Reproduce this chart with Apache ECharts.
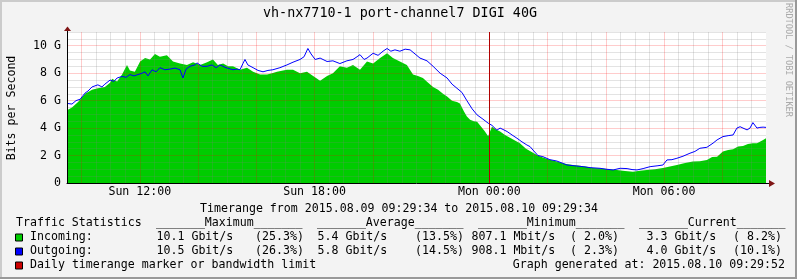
<!DOCTYPE html>
<html><head><meta charset="utf-8">
<script src="https://cdn.jsdelivr.net/npm/echarts@6/dist/echarts.min.js"></script>
<style>html,body{margin:0;padding:0;background:#f3f3f3}#c{width:797px;height:279px}</style>
</head><body><div id="c"></div>
<script>
// ---- data (hours since Sunday 00:00, values in Gbit/s) ----
const inTimes = [9.50,9.67,9.88,10.12,10.36,10.56,10.80,10.98,11.05,11.22,11.39,11.56,11.66,11.83,12.01,12.18,12.35,12.52,12.69,12.93,13.14,13.38,13.62,13.83,14.07,14.31,14.51,14.68,14.86,15.03,15.20,15.44,15.68,15.89,16.13,16.37,16.54,16.71,16.92,17.05,17.26,17.50,17.74,17.95,18.19,18.43,18.63,18.87,19.11,19.32,19.56,19.80,20.01,20.25,20.49,20.69,20.93,21.17,21.38,21.55,21.72,21.90,22.07,22.24,22.41,22.55,22.72,22.89,22.99,23.13,23.23,23.34,23.47,23.58,23.72,23.85,23.96,24.09,24.23,24.37,24.54,24.71,24.88,25.05,25.26,25.50,25.67,25.84,26.08,26.32,26.60,26.87,27.11,27.35,27.56,27.80,28.08,28.38,28.66,28.93,29.17,29.41,29.69,29.96,30.20,30.44,30.72,30.99,31.23,31.47,31.65,31.82,32.02,32.20,32.37,32.54,32.71,32.88,33.05,33.19,33.29,33.40,33.50];
const inValues = [5.3,5.5,5.9,6.5,6.8,6.9,7.0,7.3,7.6,7.4,7.9,8.6,8.2,8.1,8.85,9.1,9.0,9.4,9.2,9.3,8.85,8.7,8.6,8.8,8.6,8.8,9.0,8.6,8.7,8.5,8.5,8.25,8.4,8.1,7.9,7.9,8.0,8.1,8.2,8.25,8.25,8.0,8.1,7.8,7.45,7.8,8.0,8.5,8.4,8.6,8.25,8.85,8.7,9.1,9.45,9.1,8.85,8.6,7.9,7.8,7.65,7.3,7.0,6.8,6.5,6.3,6.0,5.9,5.8,5.2,4.84,4.6,4.5,4.47,4.1,3.75,3.4,4.1,3.9,3.75,3.5,3.3,3.1,2.9,2.5,2.2,2.0,1.85,1.7,1.56,1.4,1.31,1.25,1.19,1.1,1.07,1.0,0.95,0.88,0.82,0.9,0.95,1.0,1.1,1.2,1.31,1.45,1.56,1.58,1.68,1.9,1.92,2.3,2.4,2.45,2.65,2.7,2.85,2.9,2.9,3.0,3.14,3.26];
const outTimes = [9.50,9.67,9.81,9.95,10.12,10.22,10.36,10.56,10.70,10.80,10.98,11.11,11.22,11.39,11.53,11.66,11.80,11.94,12.08,12.18,12.28,12.42,12.56,12.69,12.86,13.04,13.21,13.38,13.48,13.59,13.72,13.89,13.96,14.14,14.31,14.48,14.62,14.75,14.96,15.20,15.34,15.44,15.54,15.61,15.71,15.89,16.06,16.23,16.40,16.57,16.81,17.05,17.26,17.50,17.64,17.77,17.88,18.02,18.19,18.43,18.63,18.87,19.11,19.32,19.46,19.56,19.70,19.80,20.01,20.18,20.35,20.49,20.62,20.76,20.93,21.11,21.28,21.45,21.62,21.86,22.07,22.31,22.55,22.72,22.89,23.06,23.23,23.41,23.58,23.75,23.96,24.09,24.26,24.37,24.47,24.61,24.78,24.95,25.12,25.29,25.40,25.50,25.67,25.84,26.08,26.32,26.50,26.67,26.94,27.22,27.46,27.80,28.04,28.25,28.49,28.73,28.90,29.07,29.28,29.52,29.76,29.96,30.10,30.27,30.44,30.65,30.89,31.06,31.23,31.47,31.68,31.82,32.02,32.20,32.37,32.50,32.61,32.71,32.85,32.95,33.05,33.19,33.29,33.40,33.50];
const outValues = [5.8,5.75,6.0,6.1,6.55,6.7,7.0,7.15,7.0,7.2,7.5,7.4,7.65,7.76,7.7,7.9,7.8,7.9,8.0,8.1,7.8,8.25,8.1,8.4,8.25,8.3,8.37,8.25,7.65,8.3,8.5,8.6,8.75,8.5,8.5,8.6,8.4,8.6,8.4,8.25,8.3,8.25,8.7,9.0,8.6,8.4,8.2,8.1,8.2,8.25,8.4,8.6,8.8,9.0,9.2,9.8,9.4,9.0,9.1,8.85,8.9,8.7,8.9,9.0,9.2,9.35,9.0,9.1,9.45,9.3,9.6,9.8,9.6,9.7,9.6,9.75,9.7,9.4,9.1,8.9,8.5,8.0,7.65,7.2,6.9,6.6,6.0,5.4,4.96,4.7,4.36,4.2,3.85,4.0,3.9,3.75,3.5,3.26,3.0,2.77,2.65,2.4,2.0,1.92,1.7,1.6,1.45,1.31,1.25,1.19,1.12,1.07,1.0,0.95,1.07,1.05,0.98,0.95,1.05,1.19,1.25,1.31,1.68,1.7,1.8,1.95,2.17,2.3,2.53,2.6,2.9,3.14,3.38,3.45,3.5,4.0,4.1,4.0,3.87,4.0,4.4,4.0,4.05,4.07,4.05];
const markerHours = [24];
const xLabelHours = [12, 18, 24, 30];
const xLabels = ['Sun 12:00', 'Sun 18:00', 'Mon 00:00', 'Mon 06:00'];
const yLabelValues = [0, 2, 4, 6, 8, 10];
const yLabels = ['0', '2 G', '4 G', '6 G', '8 G', '10 G'];
const titleText = 'vh-nx7710-1 port-channel7 DIGI 40G';
const yTitle = 'Bits per Second';
const sideText = 'RRDTOOL / TOBI OETIKER';
const timerangeText = 'Timerange from 2015.08.09 09:29:34 to 2015.08.10 09:29:34';
const statsTitle = 'Traffic Statistics';
const statHeaders = ['_______Maximum_______', '_______Average_______', '_______Minimum_______', '_______Current_______'];
const seriesNames = ['Incoming:', 'Outgoing:'];
const incomingStats = ['10.1 Gbit/s', '(25.3%)', '5.4 Gbit/s', '(13.5%)', '807.1 Mbit/s', '( 2.0%)', '3.3 Gbit/s', '( 8.2%)'];
const outgoingStats = ['10.5 Gbit/s', '(26.3%)', '5.8 Gbit/s', '(14.5%)', '908.1 Mbit/s', '( 2.3%)', '4.0 Gbit/s', '(10.1%)'];
const markerLegend = 'Daily timerange marker or bandwidth limit';
const generatedText = 'Graph generated at: 2015.08.10 09:29:52';

// ---- grid tick positions (axis units) ----
const X_MIN = 9.5, X_MAX = 33.5, Y_MAX = 11;
const xMinorTicks = [], xMajorTicks = [], yMinorTicks = [], yMajorTicks = [];
for (let h = 10; h < X_MAX; h += 0.5) (h % 2 === 0 ? xMajorTicks : xMinorTicks).push(h);
for (let v = 0.5; v <= Y_MAX; v += 0.5) (v % 2 === 0 ? yMajorTicks : yMinorTicks).push(v);

// ---- style ----
const MONO = 'DejaVu Sans Mono';
const FS = 11.6;
const GREEN = '#00CC00', BLUE = '#0000FF', RED = '#CC0000';
const minorStyle = { color: 'rgba(128,128,128,0.22)', type: 'solid', width: 1 };
const majorStyle = { color: 'rgba(255,0,0,0.2)', type: 'solid', width: 1 };

const chart = echarts.init(document.getElementById('c'));
const zip = (t, v) => t.map((x, i) => [x, v[i]]);

function txt(text, x, y, opts) {
  opts = opts || {};
  return {
    type: 'text', x: x, y: y, rotation: opts.rotation || 0, z: 100,
    style: {
      text: text, fill: opts.fill || '#000',
      font: (opts.size || FS) + 'px "' + MONO + '"',
      textAlign: opts.align || 'left', textVerticalAlign: 'middle'
    }
  };
}
function box(y, color) {
  return { type: 'rect', z: 100, shape: { x: 15.5, y: y + 0.5, width: 7, height: 7 },
    style: { fill: color, stroke: '#000', lineWidth: 1 } };
}

const graphics = [
  { type: 'rect', shape: { x: 0, y: 0, width: 797, height: 2 }, style: { fill: '#CBCBCB' }, z: 100 },
  { type: 'rect', shape: { x: 0, y: 0, width: 2, height: 279 }, style: { fill: '#CBCBCB' }, z: 100 },
  { type: 'rect', shape: { x: 0, y: 277, width: 797, height: 2 }, style: { fill: '#999999' }, z: 100 },
  { type: 'rect', shape: { x: 795, y: 0, width: 2, height: 279 }, style: { fill: '#999999' }, z: 100 },
  txt(titleText, 400, 14, { align: 'center', size: 13.4 }),
  txt(yTitle, 12, 108, { align: 'center', rotation: Math.PI / 2 }),
  txt(sideText, 788, 60, { align: 'center', rotation: -Math.PI / 2, size: 8.6, fill: '#AAAAAA' }),
  { type: 'line', z: 100, shape: { x1: 67.5, y1: 31, x2: 67.5, y2: 33 }, style: { stroke: '#000', lineWidth: 1 } },
  { type: 'polygon', z: 100, shape: { points: [[67.5, 26.5], [64, 31], [71, 31]] }, style: { fill: '#7F1414' } },
  { type: 'line', z: 100, shape: { x1: 765, y1: 183.5, x2: 770, y2: 183.5 }, style: { stroke: '#000', lineWidth: 1 } },
  { type: 'polygon', z: 100, shape: { points: [[775, 183.5], [769, 180], [769, 187]] }, style: { fill: '#7F1414' } },
  txt(timerangeText, 399, 209, { align: 'center' }),
  txt(statsTitle, 16, 223),
  box(233.5, GREEN), box(247.5, BLUE), box(261.5, RED),
  txt(seriesNames[0], 30, 237),
  txt(seriesNames[1], 30, 251),
  txt(markerLegend, 30, 265),
  txt(generatedText, 785, 265, { align: 'right' })
];
const headerX = [156, 317, 478, 639];
statHeaders.forEach((h, i) => graphics.push(txt(h, headerX[i], 223)));
const valX = [156.5, 317.5, 471.5, 646.5];
const pctX = [255, 415, 570, 733];
[incomingStats, outgoingStats].forEach((row, r) => {
  const y = 237 + r * 14;
  for (let k = 0; k < 4; k++) {
    graphics.push(txt(row[2 * k], valX[k], y));
    graphics.push(txt(row[2 * k + 1], pctX[k], y));
  }
});

const gridLines = []
  .concat(xMinorTicks.map(h => ({ xAxis: h, lineStyle: minorStyle })))
  .concat(yMinorTicks.map(v => ({ yAxis: v, lineStyle: minorStyle })))
  .concat(xMajorTicks.map(h => ({ xAxis: h, lineStyle: majorStyle })))
  .concat(yMajorTicks.map(v => ({ yAxis: v, lineStyle: majorStyle })));

const option = {
  animation: false,
  backgroundColor: '#F3F3F3',
  grid: { left: 67, right: 31, top: 32, bottom: 96, show: true, backgroundColor: '#FFFFFF', borderWidth: 0 },
  xAxis: {
    type: 'value', min: X_MIN, max: X_MAX, interval: 0.5, z: 6,
    axisLine: { show: true, onZero: false, lineStyle: { color: '#000', width: 1 } },
    axisTick: { show: false },
    axisLabel: {
      color: '#000', fontFamily: MONO, fontSize: FS, margin: 3,
      formatter: v => { const i = xLabelHours.indexOf(v); return i >= 0 ? xLabels[i] : ''; }
    },
    splitLine: { show: false }
  },
  yAxis: {
    type: 'value', min: 0, max: Y_MAX, interval: 2, z: 6,
    axisLine: { show: true, lineStyle: { color: '#000', width: 1 } },
    axisTick: { show: false },
    axisLabel: {
      color: '#000', fontFamily: MONO, fontSize: FS, margin: 6, showMaxLabel: false,
      formatter: v => { const i = yLabelValues.indexOf(v); return i >= 0 ? yLabels[i] : ''; }
    },
    splitLine: { show: false }
  },
  series: [
    {
      name: 'Incoming', type: 'line', data: zip(inTimes, inValues), showSymbol: false, z: 1,
      lineStyle: { width: 0, color: GREEN }, itemStyle: { color: GREEN },
      areaStyle: { color: GREEN, opacity: 1 },
      markLine: { silent: true, symbol: 'none', label: { show: false }, z: 3, data: gridLines }
    },
    {
      name: 'Outgoing', type: 'line', data: zip(outTimes, outValues), showSymbol: false, z: 4,
      lineStyle: { width: 1, color: BLUE }, itemStyle: { color: BLUE },
      markLine: {
        silent: true, symbol: 'none', label: { show: false }, z: 5,
        lineStyle: { color: '#B00000', width: 1, type: 'solid' },
        data: markerHours.map(h => ({ xAxis: h }))
      }
    }
  ],
  graphic: graphics
};
chart.setOption(option);
</script></body></html>
